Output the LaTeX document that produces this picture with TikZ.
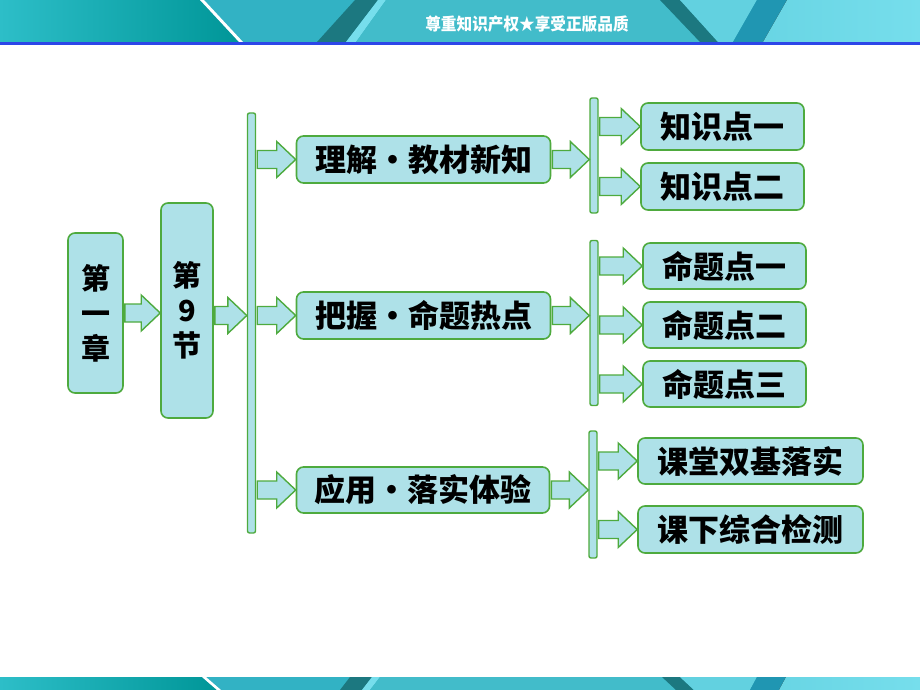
\documentclass[tikz,border=0pt]{standalone}
\usepackage{fontspec}
\newfontfamily\cjk{Noto Sans CJK SC}
\usetikzlibrary{calc}

\definecolor{boxgreen}{RGB}{78,170,62}
\definecolor{boxfill}{RGB}{174,225,232}
\definecolor{tealL}{RGB}{45,190,200}
\definecolor{tealD}{RGB}{0,150,152}
\definecolor{tealM}{RGB}{50,178,196}
\definecolor{tealC}{RGB}{66,188,202}
\definecolor{tealS}{RGB}{28,120,128}
\definecolor{tealR}{RGB}{118,222,236}
\definecolor{tealB}{RGB}{32,150,178}
\definecolor{blueline}{RGB}{45,70,232}

% fat block arrow from #1 to #2 (same height)
\newcommand{\fatarrow}[2]{%
  \draw[fatarr] let \p1=#1, \p2=#2 in
    (\x1+1pt,\y1+9pt) -- (\x2-19pt,\y1+9pt) -- (\x2-19pt,\y1+18pt) -- (\x2,\y1)
    -- (\x2-19pt,\y1-18pt) -- (\x2-19pt,\y1-9pt) -- (\x1+1pt,\y1-9pt) -- cycle;}

\begin{document}
\begin{tikzpicture}[x=1pt,y=-1pt,
    card/.style={draw=boxgreen, line width=1.6pt, fill=boxfill, rounded corners=7pt,
      inner sep=0pt, font=\cjk\bfseries\fontsize{31}{36}\selectfont},
    vcard/.style={card, align=center, font=\cjk\bfseries\fontsize{29}{35}\selectfont},
    bar/.style={draw=boxgreen, line width=1.4pt, fill=boxfill, rounded corners=2pt,
      minimum width=8pt, inner sep=0pt},
    fatarr/.style={draw=boxgreen, line width=1.4pt, fill=boxfill, line join=miter},
  ]
  \useasboundingbox (0,0) rectangle (920,690);

  % top banner
  \fill[left color=tealL, right color=tealD] (0,0) -- (200,0) -- (239,42) -- (0,42) -- cycle;
  \fill[tealM] (200,0) -- (920,0) -- (920,42) -- (239,42) -- cycle;
  \fill[white] (200,0) -- (204,0) -- (243,42) -- (239,42) -- cycle;
  \fill[tealS] (355,0) -- (378,0) -- (346,42) -- (317,42) -- cycle;
  \fill[tealR] (378,0) -- (386,0) -- (356,42) -- (346,42) -- cycle;
  \fill[tealC] (386,0) -- (660,0) -- (700,42) -- (356,42) -- cycle;
  \fill[tealS] (660,0) -- (680,0) -- (718,42) -- (700,42) -- cycle;
  \fill[tealR!70!tealM] (680,0) -- (757,0) -- (733,42) -- (718,42) -- cycle;
  \fill[tealB] (757,0) -- (787,0) -- (763,42) -- (733,42) -- cycle;
  \fill[left color=tealR!80!tealM, right color=tealR] (787,0) -- (920,0) -- (920,42) -- (763,42) -- cycle;
  \fill[blueline] (0,42) rectangle (920,45);
  \node[text=white, font=\cjk\bfseries\fontsize{17}{17}\selectfont, xscale=0.92] (motto) at (527,24) {尊重知识产权★享受正版品质};

  % bottom banner
  \fill[left color=tealL, right color=tealD] (0,677) -- (202,677) -- (217,690) -- (0,690) -- cycle;
  \fill[tealM] (202,677) -- (920,677) -- (920,690) -- (217,690) -- cycle;
  \fill[white] (202,677) -- (206,677) -- (221,690) -- (217,690) -- cycle;
  \fill[tealS] (350,677) -- (372,677) -- (362,690) -- (340,690) -- cycle;
  \fill[tealR] (372,677) -- (380,677) -- (370,690) -- (362,690) -- cycle;
  \fill[tealC] (380,677) -- (662,677) -- (676,690) -- (370,690) -- cycle;
  \fill[tealS] (662,677) -- (680,677) -- (694,690) -- (676,690) -- cycle;
  \fill[tealR!70!tealM] (680,677) -- (757,677) -- (750,690) -- (694,690) -- cycle;
  \fill[tealB] (757,677) -- (786,677) -- (779,690) -- (750,690) -- cycle;
  \fill[left color=tealR!80!tealM, right color=tealR] (786,677) -- (920,677) -- (920,690) -- (779,690) -- cycle;

  % chapter and section
  \node[vcard, minimum width=55pt, minimum height=160pt] (chap) at (95.5,313) {第\\一\\章};
  \node[vcard, minimum width=52pt, minimum height=215pt] (sect) at (187,310.5) {第\\9\\节};
  \node[bar, minimum height=420pt] (bar0) at (251.5,323) {};
  \coordinate (sectout) at ([yshift=-5pt]sect.east);

  % three parts
  \node[card, minimum width=254pt, minimum height=47pt] (learn) at (423.5,159.5) {理解・教材新知};
  \node[card, minimum width=254pt, minimum height=47pt] (grasp) at (423.5,315.5) {把握・命题热点};
  \node[card, minimum width=253pt, minimum height=46pt] (apply) at (423,490) {应用・落实体验};

  \node[bar, minimum height=115pt] (barA) at (594,155.5) {};
  \node[bar, minimum height=165pt] (barB) at (594,323) {};
  \node[bar, minimum height=127pt] (barC) at (593,494.5) {};

  % leaves
  \node[card, minimum width=163pt, minimum height=47pt] (know1) at (722.5,126.5) {知识点一};
  \node[card, minimum width=163pt, minimum height=47pt] (know2) at (722.5,186.5) {知识点二};
  \node[card, minimum width=163pt, minimum height=46pt] (topic1) at (724.5,266) {命题点一};
  \node[card, minimum width=163pt, minimum height=46pt] (topic2) at (724.5,325) {命题点二};
  \node[card, minimum width=163pt, minimum height=46pt] (topic3) at (724.5,384) {命题点三};
  \node[card, minimum width=225pt, minimum height=46pt] (class) at (750.5,461) {课堂双基落实};
  \node[card, minimum width=225pt, minimum height=47pt] (after) at (750.5,529.5) {课下综合检测};

  % arrows
  \fatarrow{(chap.east)}{(sect.west |- chap.east)}
  \fatarrow{(sectout)}{(bar0.west |- sectout)}
  \foreach \nd in {learn,grasp,apply}
    \fatarrow{(bar0.east |- \nd.west)}{(\nd.west)};
  \fatarrow{(learn.east)}{(barA.west |- learn.east)}
  \fatarrow{(grasp.east)}{(barB.west |- grasp.east)}
  \fatarrow{(apply.east)}{(barC.west |- apply.east)}
  \foreach \nd in {know1,know2}
    \fatarrow{(barA.east |- \nd.west)}{(\nd.west)};
  \foreach \nd in {topic1,topic2,topic3}
    \fatarrow{(barB.east |- \nd.west)}{(\nd.west)};
  \foreach \nd in {class,after}
    \fatarrow{(barC.east |- \nd.west)}{(\nd.west)};
\end{tikzpicture}
\end{document}
